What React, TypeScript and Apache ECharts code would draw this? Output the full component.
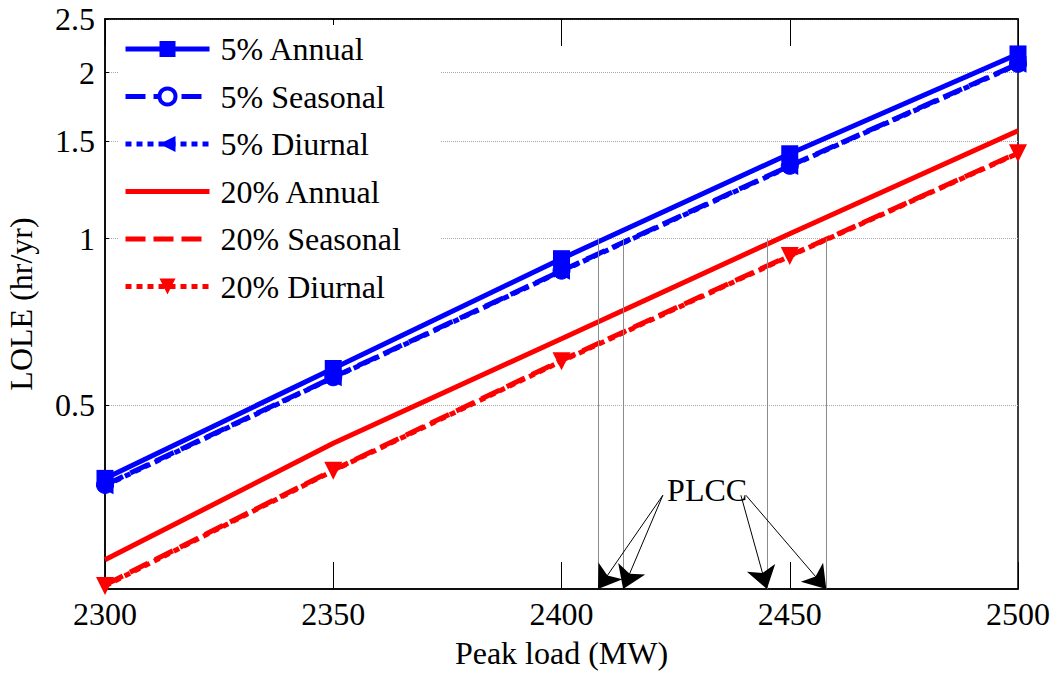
import React, { useEffect, useRef } from "react";
import * as echarts from "echarts";

// ---- data ----
const loads = [2300, 2350, 2400, 2450, 2500];
const annual5 = [0.368, 0.582, 0.92, 1.425, 2.161];
const seasonal5 = [0.358, 0.561, 0.875, 1.355, 2.073];
const diurnal5 = [0.357, 0.56, 0.873, 1.352, 2.069];
const annual20 = [0.262, 0.426, 0.659, 1.021, 1.568];
const seasonal20 = [0.236, 0.381, 0.602, 0.932, 1.431];
const diurnal20 = [0.235, 0.38, 0.6, 0.93, 1.428];

const xTickLabels = [2300, 2350, 2400, 2450, 2500];
const yTickLabels = [0.5, 1, 1.5, 2, 2.5];
const yMin = 0.232;
const yMax = 2.5;

// PLCC annotation
const plccLoads = [2408, 2413.5, 2445, 2458];
const plccLevel = 1;
const plccArrowFromLoad = [2422.2, 2422.2, 2439.3, 2440.4];
const plccArrowFromLole = [0.343, 0.343, 0.343, 0.343];
const plccText = "PLCC";
const plccTextAt = [2431.9, 0.35];

const FONT = '"Liberation Serif", "Times New Roman", serif';
const BLUE = "#0000ff";
const RED = "#ff0000";
const lg = (v: number) => Math.log10(v);
const pts = (arr: number[]) => loads.map((x, i) => [x, lg(arr[i])]);

const DASH = [20, 8];
const DOT = [6, 5];

function buildOption(): any {
  const yMinL = lg(yMin);
  const plccLines = plccLoads.map((x) => [
    { coord: [x, lg(plccLevel)], lineStyle: { color: "#8c8c8c", width: 1, type: "solid" }, symbol: "none" },
    { coord: [x, yMinL], symbol: "none" },
  ]);
  const plccArrows = plccLoads.map((x, i) => [
    {
      coord: [plccArrowFromLoad[i], lg(plccArrowFromLole[i])],
      lineStyle: { color: "#000", width: 1, type: "solid" },
      symbol: "none",
    },
    { coord: [x, yMinL], symbol: "arrow", symbolSize: 22 },
  ]);

  const xAxisBase = {
    type: "value",
    min: xTickLabels[0],
    max: xTickLabels[xTickLabels.length - 1],
    interval: 50,
    axisLine: { show: true, onZero: false, lineStyle: { color: "#000", width: 1.5 } },
    axisTick: { show: true, inside: true, length: 27, lineStyle: { color: "#000", width: 1 } },
    splitLine: { show: false },
  };

  return {
    animation: false,
    backgroundColor: "#fff",
    textStyle: { fontFamily: FONT },
    grid: {
      left: 105,
      right: 40,
      top: 19,
      bottom: 84,
      containLabel: false,
      outerBoundsMode: "none",
      show: true,
      borderColor: "#000",
      borderWidth: 1.5,
      backgroundColor: "transparent",
    },
    legend: {
      orient: "vertical",
      left: 118,
      top: 25,
      itemWidth: 84,
      itemHeight: 20,
      itemGap: 15.5,
      selectedMode: false,
      backgroundColor: "#fff",
      padding: [8, 40, 2, 5],
      lineStyle: { width: 5 },
      textStyle: { fontSize: 32, fontFamily: FONT, color: "#000", padding: [0, 0, 0, 6] },
      data: [
        { name: "5% Annual" },
        { name: "5% Seasonal", itemStyle: { color: "#fff", borderColor: BLUE, borderWidth: 4 } },
        { name: "5% Diurnal" },
        { name: "20% Annual" },
        { name: "20% Seasonal" },
        { name: "20% Diurnal" },
      ],
    },
    xAxis: [
      {
        ...xAxisBase,
        position: "bottom",
        name: "Peak load (MW)",
        nameLocation: "middle",
        nameGap: 48,
        nameTextStyle: { fontSize: 32, fontFamily: FONT, color: "#000" },
        axisLabel: {
          fontSize: 32,
          fontFamily: FONT,
          color: "#000",
          margin: 9,
          formatter: (v: number) => String(v),
        },
      },
      {
        ...xAxisBase,
        position: "top",
        axisLabel: { show: false },
      },
    ],
    yAxis: [
      {
        type: "value",
        min: yMinL,
        max: lg(yMax),
        name: "LOLE (hr/yr)",
        nameLocation: "middle",
        nameGap: 68,
        nameTextStyle: { fontSize: 32, fontFamily: FONT, color: "#000" },
        axisLine: { show: true, onZero: false, lineStyle: { color: "#000", width: 1.5 } },
        axisTick: {
          show: true,
          inside: true,
          length: 4,
          lineStyle: { color: "#000" },
          customValues: yTickLabels.map(lg),
        },
        axisLabel: {
          fontSize: 32,
          fontFamily: FONT,
          color: "#000",
          margin: 10,
          customValues: yTickLabels.map(lg),
          formatter: (v: number) => String(Math.round(Math.pow(10, v) * 10) / 10),
        },
        splitLine: { show: true, lineStyle: { color: "#a8a8a8", width: 1, type: "dotted" } },
      },
    ],
    series: [
      {
        name: "5% Annual",
        type: "line",
        data: pts(annual5),
        symbol: "rect",
        symbolSize: 17,
        lineStyle: { color: BLUE, width: 5, type: "solid" },
        itemStyle: { color: BLUE },
        markLine: {
          silent: true,
          animation: false,
          label: { show: false },
          data: [...plccLines, ...plccArrows],
        },
        markPoint: {
          silent: true,
          symbol: "circle",
          symbolSize: 0,
          data: [{ coord: [plccTextAt[0], lg(plccTextAt[1])], value: plccText }],
          label: {
            show: true,
            position: "inside",
            formatter: plccText,
            fontSize: 32,
            fontFamily: FONT,
            color: "#000",
          },
        },
      },
      {
        name: "5% Seasonal",
        type: "line",
        data: pts(seasonal5),
        symbol: "circle",
        symbolSize: 17,
        lineStyle: { color: BLUE, width: 5, type: DASH },
        itemStyle: { color: BLUE, borderColor: BLUE, borderWidth: 1 },
      },
      {
        name: "5% Diurnal",
        type: "line",
        data: pts(diurnal5),
        symbol: "triangle",
        symbolRotate: 90,
        symbolSize: 17,
        lineStyle: { color: BLUE, width: 5, type: DOT },
        itemStyle: { color: BLUE },
      },
      {
        name: "20% Annual",
        type: "line",
        data: pts(annual20),
        symbol: "circle",
        showSymbol: false,
        lineStyle: { color: RED, width: 5, type: "solid" },
        itemStyle: { color: RED, opacity: 0 },
      },
      {
        name: "20% Seasonal",
        type: "line",
        data: pts(seasonal20),
        symbol: "circle",
        showSymbol: false,
        lineStyle: { color: RED, width: 5, type: DASH },
        itemStyle: { color: RED, opacity: 0 },
      },
      {
        name: "20% Diurnal",
        type: "line",
        data: pts(diurnal20),
        symbol: "triangle",
        symbolRotate: 180,
        symbolSize: 18,
        lineStyle: { color: RED, width: 5, type: DOT },
        itemStyle: { color: RED },
      },
    ],
  };
}

export default function App() {
  const ref = useRef<HTMLDivElement>(null);
  useEffect(() => {
    if (!ref.current) return;
    const chart = echarts.init(ref.current, null, { renderer: "svg" });
    chart.setOption(buildOption());
    return () => chart.dispose();
  }, []);
  return (
    <div
      ref={ref}
      style={{ position: "fixed", left: 0, top: 0, width: 1058, height: 673, background: "#fff" }}
    />
  );
}
